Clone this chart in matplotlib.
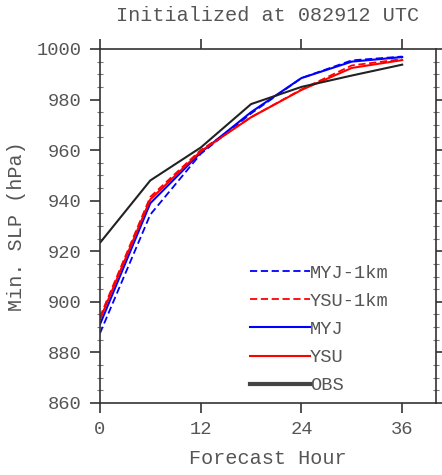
import matplotlib

matplotlib.use("Agg")
import matplotlib.pyplot as plt
from matplotlib.ticker import MultipleLocator

# Forecast hours and minimum sea-level pressure (hPa)
hours = [0, 6, 12, 18, 24, 30, 36]
myj_1km = [887.5, 934.5, 958.5, 974.5, 988.5, 995.5, 997.0]
ysu_1km = [894.0, 941.5, 960.0, 973.0, 984.0, 993.5, 996.0]
myj = [891.0, 939.0, 959.0, 975.0, 988.5, 995.0, 996.8]
ysu = [893.0, 940.5, 959.5, 973.0, 983.8, 992.5, 995.6]
obs = [923.3, 948.0, 961.0, 978.2, 985.0, 989.5, 993.8]

labels = ["MYJ-1km", "YSU-1km", "MYJ", "YSU", "OBS"]
xticks = [0, 12, 24, 36]

TXT = "#555555"
AX = "#333333"
FONT = "Liberation Mono"

plt.rcParams.update({"font.family": FONT, "font.size": 13.5})

fig = plt.figure(figsize=(4.42, 4.75), dpi=100, facecolor="white")
ax = fig.add_axes([0.226, 0.1516, 0.760, 0.7453])

ax.plot(hours, myj_1km, color="blue", lw=1.3, ls=(0, (4, 2)), label=labels[0])
ax.plot(hours, ysu_1km, color="red", lw=1.3, ls=(0, (4, 2)), label=labels[1])
ax.plot(hours, myj, color="blue", lw=1.5, label=labels[2])
ax.plot(hours, ysu, color="red", lw=1.5, label=labels[3])
ax.plot(hours, obs, color="#222222", lw=1.5, label=labels[4])

ax.set_xlim(0, 40)
ax.set_ylim(860, 1000)
ax.set_xticks(xticks)
ax.yaxis.set_major_locator(MultipleLocator(20))
ax.yaxis.set_minor_locator(MultipleLocator(5))

for s in ax.spines.values():
    s.set_color(AX)
    s.set_linewidth(1.2)

ax.tick_params(axis="both", which="major", direction="out", length=7, width=1.2,
               color=AX, labelcolor=TXT, labelsize=13.5, top=True, right=True, pad=6)
ax.tick_params(axis="y", which="minor", direction="inout", length=5, width=0.8,
               color="#777777", right=True)
ax.tick_params(axis="x", which="minor", bottom=False, top=False)

ax.set_xlabel("Forecast Hour", color=TXT, fontsize=14.5, labelpad=8)
ax.set_ylabel("Min. SLP (hPa)", color=TXT, fontsize=14.5, labelpad=8)
ax.set_title("Initialized at 082912 UTC", color=TXT, fontsize=14.5, pad=20)

leg = ax.legend(loc="lower left", bbox_to_anchor=(0.425, 0.003), frameon=False,
                handlelength=3.2, handletextpad=0.0, labelspacing=0.59,
                borderaxespad=0, fontsize=13.5)
for t in leg.get_texts():
    t.set_color(TXT)
leg.get_lines()[4].set_linewidth(3)
leg.get_lines()[4].set_color("#444444")

fig.savefig("out.png", dpi=100, facecolor="white")
